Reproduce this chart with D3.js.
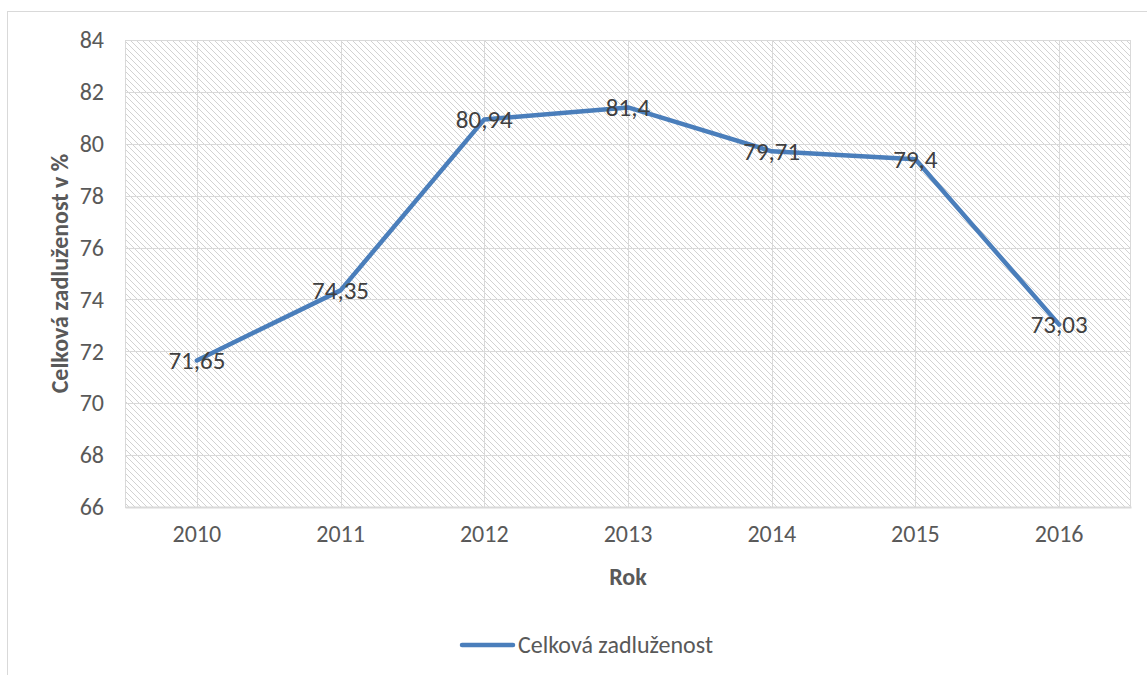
<!DOCTYPE html>
<html>
<head>
<meta charset="utf-8">
<script src="https://cdn.jsdelivr.net/npm/d3@7"></script>
<style>
  html, body { margin: 0; padding: 0; background: #fff; }
  svg { display: block; }
</style>
</head>
<body>
<svg id="chart" width="1147" height="675"></svg>
<script>
// Data
const years = ["2010", "2011", "2012", "2013", "2014", "2015", "2016"];
const debtValues = [71.65, 74.35, 80.94, 81.4, 79.71, 79.4, 73.03];
const yTicks = [66, 68, 70, 72, 74, 76, 78, 80, 82, 84];
const seriesName = "Celková zadluženost";
const yTitle = "Celková zadluženost v %";
const xTitle = "Rok";

const svg = d3.select("#chart");
const W = 1147, H = 675;
const plot = { left: 125, right: 1131, top: 40, bottom: 507 };
const font = "Carlito, Lato, 'Liberation Sans', sans-serif";
const fs = 24;

// Outer chart frame
svg.append("rect")
  .attr("x", 7.5).attr("y", 11.5)
  .attr("width", W + 10).attr("height", H + 10)
  .attr("fill", "#fff").attr("stroke", "#d9d9d9").attr("stroke-width", 1);

// Diagonal hatch for the plot area
const defs = svg.append("defs");
const pat = defs.append("pattern")
  .attr("id", "hatch")
  .attr("patternUnits", "userSpaceOnUse")
  .attr("width", 6).attr("height", 6);
pat.append("rect").attr("width", 6).attr("height", 6).attr("fill", "#fff");
pat.append("path")
  .attr("d", "M-1,-1 L7,7 M-1,5 L1,7 M5,-1 L7,1")
  .attr("stroke", "#d2d2d2").attr("stroke-width", 1);

const x = d3.scaleBand().domain(years).range([plot.left, plot.right]);
const y = d3.scaleLinear().domain([66, 84]).range([plot.bottom, plot.top]);
const cx = d => x(d) + x.bandwidth() / 2;

svg.append("rect")
  .attr("x", plot.left).attr("y", plot.top)
  .attr("width", plot.right - plot.left).attr("height", plot.bottom - plot.top)
  .attr("fill", "url(#hatch)");

// Gridlines
const grid = svg.append("g").attr("stroke", "#d9d9d9").attr("stroke-width", 1);
grid.selectAll("line.h").data(yTicks).join("line")
  .attr("x1", plot.left).attr("x2", plot.right)
  .attr("y1", d => Math.round(y(d)) + 0.5).attr("y2", d => Math.round(y(d)) + 0.5);
grid.selectAll("line.v").data(years).join("line")
  .attr("y1", plot.top).attr("y2", plot.bottom)
  .attr("x1", d => Math.round(cx(d)) + 0.5).attr("x2", d => Math.round(cx(d)) + 0.5);
grid.append("line")
  .attr("x1", plot.left + 0.5).attr("x2", plot.left + 0.5)
  .attr("y1", plot.top).attr("y2", plot.bottom);
grid.append("line")
  .attr("x1", plot.right - 0.5).attr("x2", plot.right - 0.5)
  .attr("y1", plot.top).attr("y2", plot.bottom);

// Y axis
const yAxis = d3.axisLeft(y).tickValues(yTicks).tickSize(0).tickPadding(21);
const gy = svg.append("g").attr("transform", `translate(${plot.left},0)`).call(yAxis);
gy.select(".domain").remove();
gy.selectAll("text").attr("font-family", font).attr("font-size", fs).attr("fill", "#595959");

// X axis
const xAxis = d3.axisBottom(x).tickSize(0).tickPadding(18);
const gx = svg.append("g").attr("transform", `translate(0,${plot.bottom})`).call(xAxis);
gx.select(".domain").attr("stroke", "#d9d9d9").attr("stroke-width", 2);
gx.selectAll("text").attr("font-family", font).attr("font-size", fs).attr("fill", "#595959");

// Axis titles
svg.append("text")
  .attr("transform", `translate(60,${(plot.top + plot.bottom) / 2}) rotate(-90)`)
  .attr("text-anchor", "middle").attr("dy", "0.35em")
  .attr("font-family", font).attr("font-size", 24).attr("font-weight", "bold")
  .attr("fill", "#595959").text(yTitle);
svg.append("text")
  .attr("x", (plot.left + plot.right) / 2).attr("y", 577)
  .attr("text-anchor", "middle").attr("dy", "0.35em")
  .attr("font-family", font).attr("font-size", 24).attr("font-weight", "bold")
  .attr("fill", "#595959").text(xTitle);

// Series line
const line = d3.line().x((d, i) => cx(years[i])).y(d => y(d));
svg.append("path")
  .datum(debtValues)
  .attr("d", line)
  .attr("fill", "none").attr("stroke", "#4a7ebb")
  .attr("stroke-width", 4.5).attr("stroke-linejoin", "round").attr("stroke-linecap", "round");

// Data labels centred on the points
const fmt = v => String(v).replace(".", ",");
svg.append("g").selectAll("text").data(debtValues).join("text")
  .attr("x", (d, i) => cx(years[i]))
  .attr("y", d => y(d))
  .attr("dy", "0.35em")
  .attr("text-anchor", "middle")
  .attr("font-family", font).attr("font-size", 25)
  .attr("fill", "#404040")
  .text(fmt);

// Legend
const lg = svg.append("g");
lg.append("line")
  .attr("x1", 462).attr("x2", 513).attr("y1", 645).attr("y2", 645)
  .attr("stroke", "#4a7ebb").attr("stroke-width", 4.5).attr("stroke-linecap", "round");
lg.append("text")
  .attr("x", 518).attr("y", 645).attr("dy", "0.35em")
  .attr("font-family", font).attr("font-size", fs).attr("fill", "#595959")
  .text(seriesName);
</script>
</body>
</html>
